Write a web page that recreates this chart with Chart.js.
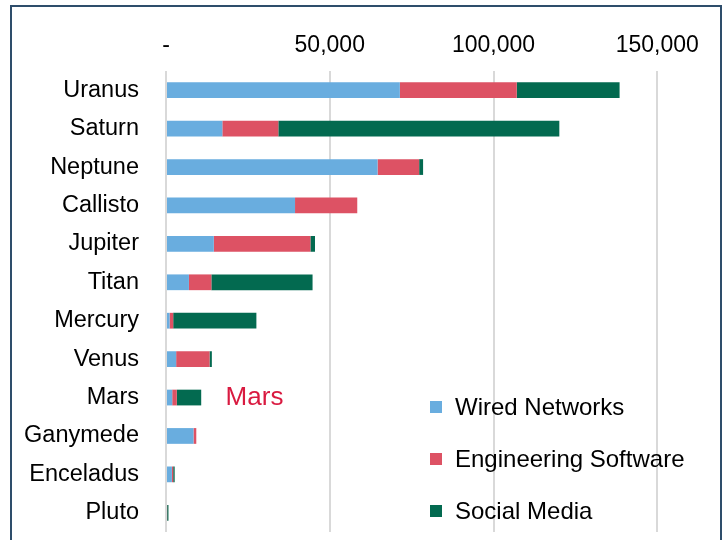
<!DOCTYPE html>
<html>
<head>
<meta charset="utf-8">
<script src="https://cdn.jsdelivr.net/npm/chart.js@4/dist/chart.umd.min.js"></script>
<style>
  html, body { margin: 0; padding: 0; background: #fff; overflow: hidden; }
  #wrap { position: relative; width: 728px; height: 540px; }
</style>
</head>
<body>
<div id="wrap"><canvas id="c" width="728" height="540"></canvas></div>
<script>
// Visits per body, split by topic
const categories = ['Uranus', 'Saturn', 'Neptune', 'Callisto', 'Jupiter', 'Titan',
  'Mercury', 'Venus', 'Mars', 'Ganymede', 'Enceladus', 'Pluto'];
const wiredNetworks       = [71400, 17200, 64600, 39400, 14600, 7000, 1100, 3100, 1900, 8400, 1800, 0];
const engineeringSoftware = [35700, 17100, 12700, 19000, 29500, 6850, 1100, 10200, 1400, 850, 400, 350];
const socialMedia         = [31400, 85800, 1200, 0, 1400, 30900, 25400, 700, 7450, 0, 450, 400];
const xTicks = [0, 50000, 100000, 150000];
const seriesNames = ['Wired Networks', 'Engineering Software', 'Social Media'];
const seriesColors = ['#69addf', '#dd5264', '#036a50'];
const noteCategory = 'Mars';
const noteValue = 18200;

const FONT = "'Liberation Sans', Arial, sans-serif";

// Frame around the whole figure
const framePlugin = {
  id: 'frame',
  beforeDraw(chart) {
    const ctx = chart.ctx;
    ctx.save();
    ctx.fillStyle = '#fff';
    ctx.fillRect(0, 0, chart.width, chart.height);
    ctx.strokeStyle = '#2e4d6b';
    ctx.lineWidth = 2;
    ctx.strokeRect(11, 6, 710, 545);
    ctx.restore();
  }
};

// Red note beside the Mars bar
const notePlugin = {
  id: 'note',
  afterDatasetsDraw(chart) {
    const ctx = chart.ctx;
    const x = chart.scales.x.getPixelForValue(noteValue);
    const y = chart.scales.y.getPixelForValue(categories.indexOf(noteCategory));
    ctx.save();
    ctx.fillStyle = '#d91a40';
    ctx.font = '26px ' + FONT;
    ctx.textAlign = 'left';
    ctx.textBaseline = 'middle';
    ctx.fillText(noteCategory, x, y);
    ctx.restore();
  }
};

// Legend in the lower right of the plot
const legendPlugin = {
  id: 'boxLegend',
  afterDraw(chart) {
    const ctx = chart.ctx;
    const left = 430, top = 407, step = 52, box = 12;
    ctx.save();
    ctx.font = '24px ' + FONT;
    ctx.textAlign = 'left';
    ctx.textBaseline = 'middle';
    chart.data.datasets.forEach((ds, i) => {
      const cy = top + i * step;
      ctx.fillStyle = ds.backgroundColor;
      ctx.fillRect(left, cy - box / 2, box, box);
      ctx.fillStyle = '#000';
      ctx.fillText(ds.label, left + 25, cy + 1);
    });
    ctx.restore();
  }
};

new Chart(document.getElementById('c'), {
  type: 'bar',
  data: {
    labels: categories,
    datasets: [wiredNetworks, engineeringSoftware, socialMedia].map((d, i) => ({
      label: seriesNames[i],
      data: d,
      backgroundColor: seriesColors[i],
      borderWidth: 0,
      barPercentage: 0.41,
      categoryPercentage: 1
    }))
  },
  options: {
    responsive: false,
    animation: false,
    indexAxis: 'y',
    layout: { padding: { left: 0, right: 38, top: 0, bottom: 8 } },
    plugins: { legend: { display: false }, tooltip: { enabled: false } },
    scales: {
      x: {
        position: 'top',
        stacked: true,
        min: 0,
        max: 160000,
        afterBuildTicks: s => { s.ticks = xTicks.map(v => ({ value: v })); },
        afterFit: s => { s.height = 71; s.paddingLeft = 0; s.paddingRight = 0; },
        border: { display: false },
        grid: { color: '#d9d9d9', lineWidth: 2, drawTicks: false },
        ticks: {
          color: '#000',
          padding: 12,
          font: { family: FONT, size: 23 },
          callback: v => v === 0 ? '-' : v.toLocaleString('en-US')
        }
      },
      y: {
        stacked: true,
        afterFit: s => { s.width = 166; s.paddingTop = 0; s.paddingBottom = 0; },
        border: { display: false },
        grid: { display: false, drawTicks: false },
        ticks: { color: '#000', padding: 27, font: { family: FONT, size: 23.5 } }
      }
    }
  },
  plugins: [framePlugin, notePlugin, legendPlugin]
});
</script>
</body>
</html>
